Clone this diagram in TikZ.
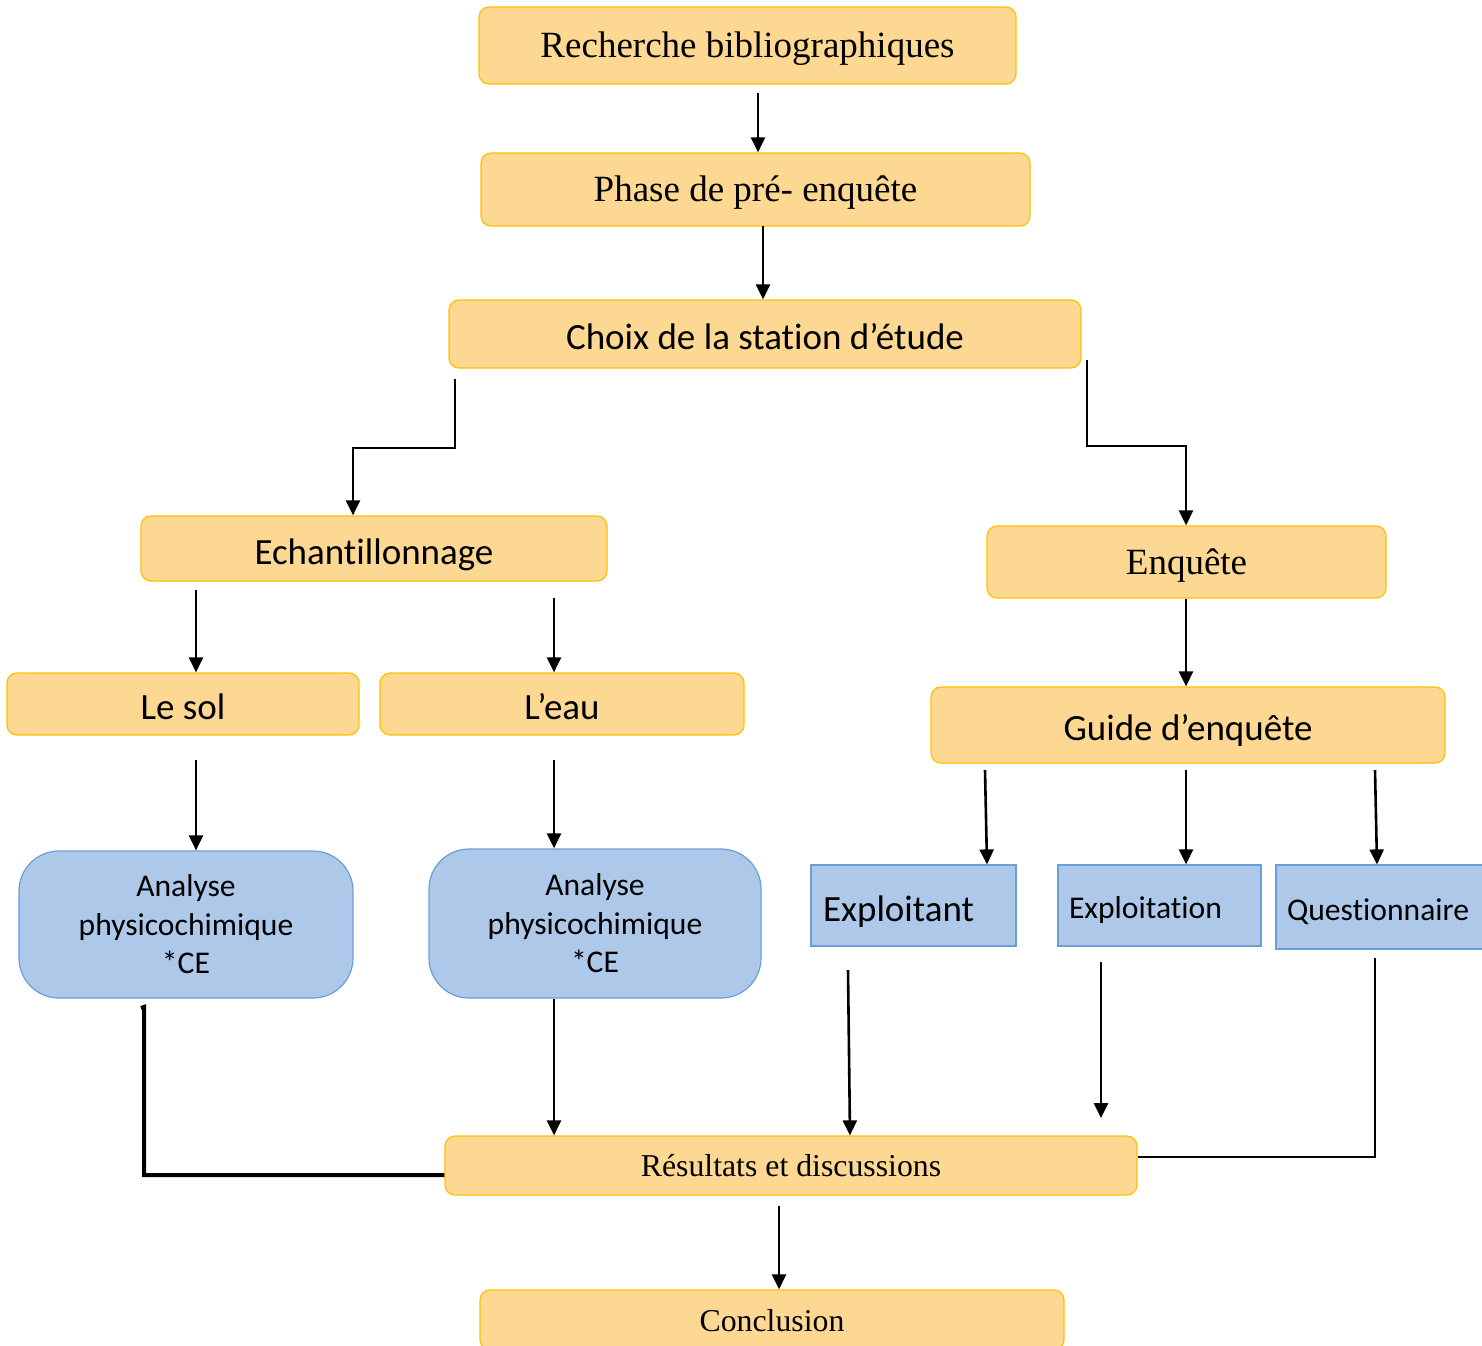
\documentclass[tikz,border=0pt]{standalone}
\usepackage{fontspec}
\setmainfont{Liberation Serif}
\newfontfamily\calib[Ligatures=NoCommon]{Carlito}
\usetikzlibrary{arrows.meta}
\definecolor{ofill}{HTML}{FDD893}
\definecolor{odraw}{HTML}{FFC000}
\definecolor{bfill}{HTML}{ADC8E8}
\definecolor{bdraw}{HTML}{6A9FD6}
\tikzset{
  obox/.style={draw=odraw, fill=ofill, rounded corners=5pt, line width=0.6pt, inner sep=0pt},
  bround/.style={draw=bdraw, fill=bfill, rounded corners=20pt, line width=0.6pt, inner sep=0pt, align=center,
     font=\calib\fontsize{15.8}{19.25}\selectfont},
  brect/.style={draw=bdraw, fill=bfill, line width=0.6pt, inner ysep=0pt, align=left},
  serifT/.style={font=\fontsize{18.5}{22}\selectfont, text height=12pt, text depth=0pt},
  serifS/.style={font=\fontsize{15.9}{19}\selectfont, text height=11pt, text depth=0pt},
  calT/.style={font=\calib\fontsize{18.5}{22}\selectfont, text height=15.5pt, text depth=0pt},
  calS/.style={font=\calib\fontsize{15.8}{19}\selectfont, text height=13.3pt, text depth=0pt},
  arr/.style={line width=1.3pt, -{Triangle[length=7.5pt,width=7pt]}},
}
\begin{document}
\begin{tikzpicture}[x=0.5pt,y=-0.5pt]
\useasboundingbox (0,0) rectangle (1482,1345);
% nodes
\node[obox, serifT, minimum width=268.5pt, minimum height=38.5pt] (rb) at (747.5,45.5) {Recherche bibliographiques};
\node[obox, serifT, minimum width=274.5pt, minimum height=36.5pt] (ph) at (755.5,189.5) {Phase de pré- enquête};
\node[obox, calT, minimum width=316pt, minimum height=34pt] (ch) at (765,334) {Choix de la station d’étude};
\node[obox, calT, minimum width=233pt, minimum height=32.5pt] (ec) at (374,548.5) {Echantillonnage};
\node[obox, serifT, minimum width=199.5pt, minimum height=36pt] (en) at (1186.5,562) {Enquête};
\node[obox, calT, minimum width=176pt, minimum height=31pt] (ls) at (183,704) {Le sol};
\node[obox, calT, minimum width=182pt, minimum height=31pt] (le) at (562,704) {L’eau};
\node[obox, calT, minimum width=257pt, minimum height=38pt] (gd) at (1188,725) {Guide d’enquête};
\node[bround, minimum width=167pt, minimum height=73.5pt] (a1) at (186,924.5) {Analyse\\physicochimique\\*CE};
\node[bround, minimum width=166pt, minimum height=74.5pt] (a2) at (595,923.5) {Analyse\\physicochimique\\*CE};
\node[brect, calT, inner xsep=6pt, text width=90.5pt, minimum height=40.5pt] (et) at (913.5,905.5) {Exploitant};
\node[brect, calS, inner xsep=5.5pt, text width=90.5pt, minimum height=40.5pt] (ex) at (1159.5,905.5) {Exploitation};
\node[brect, calS, inner xsep=5.5pt, text width=98.5pt, minimum height=42pt] (qu) at (1385.5,907) {Questionnaire};
\node[obox, serifS, minimum width=346pt, minimum height=29.5pt] (rs) at (791,1165.5) {Résultats et discussions};
\node[obox, serifS, minimum width=292pt, minimum height=30pt] (co) at (772,1320) {Conclusion};
% connectors
\coordinate (s1) at (758,93);
\draw[arr] (s1) -- (s1 |- ph.north);
\coordinate (s2) at (763,226);
\draw[arr] (s2) -- (s2 |- ch.north);
\coordinate (c1) at (455,379);
\draw[arr] (c1) -- (455,448) -| (353,448 |- ec.north);
\coordinate (c2) at (1087,360);
\draw[arr] (c2) -- (1087,446) -| (1186,446 |- en.north);
\coordinate (e1) at (196,590);
\draw[arr] (e1) -- (e1 |- ls.north);
\coordinate (e2) at (554,598);
\draw[arr] (e2) -- (e2 |- le.north);
\draw[arr] (1186,600 |- en.south) -- (1186,600 |- gd.north);
\coordinate (l1) at (196,760);
\draw[arr] (l1) -- (l1 |- a1.north);
\coordinate (l2) at (554,760);
\draw[arr] (l2) -- (l2 |- a2.north);
\coordinate (g1) at (985,770);
\draw[arr] (g1) -- (987,770 |- et.north);
\coordinate (g2) at (1186,770);
\draw[arr] (g2) -- (g2 |- ex.north);
\coordinate (g3) at (1375,770);
\draw[arr] (g3) -- (1377,770 |- qu.north);
\coordinate (b1) at (144,1007);
\draw[line width=2pt] (141,1008) -- (b1) |- (rs.west |- 0,1175);
\draw[arr] (554,990 |- a2.south) -- (554,990 |- rs.north);
\coordinate (b3) at (848,970);
\draw[arr] (b3) -- (850,970 |- rs.north);
\coordinate (b4) at (1101,962);
\coordinate (b4e) at (1101,1118);
\draw[arr] (b4) -- (b4e);
\coordinate (b5) at (1375,958);
\draw[line width=1.3pt] (b5) |- (rs.east |- 0,1157);
\coordinate (r1) at (779,1206);
\draw[arr] (r1) -- (r1 |- co.north);
\end{tikzpicture}
\end{document}
